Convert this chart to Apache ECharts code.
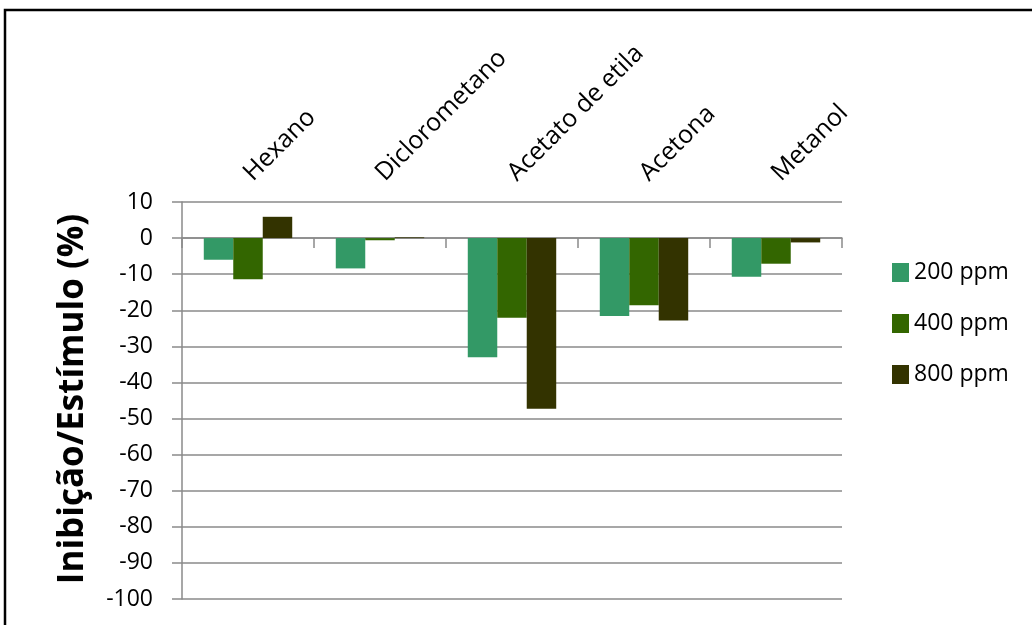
<!DOCTYPE html>
<html>
<head>
<meta charset="utf-8">
<script src="https://cdn.jsdelivr.net/npm/echarts@6/dist/echarts.min.js"></script>
<style>
  html, body { margin: 0; padding: 0; background: #fff; }
  #chart { width: 1032px; height: 625px; }
</style>
</head>
<body>
<div id="chart"></div>
<script>
// Solvents tested
const categories = ['Hexano', 'Diclorometano', 'Acetato de etila', 'Acetona', 'Metanol'];

// Inhibition / stimulation (%) per concentration
const ppm200 = [-6.0, -8.4, -33.0, -21.6, -10.7];
const ppm400 = [-11.4, -0.6, -22.1, -18.6, -7.1];
const ppm800 = [5.9, 0.2, -47.3, -22.8, -1.2];

const seriesNames = ['200 ppm', '400 ppm', '800 ppm'];
const seriesColors = ['#339966', '#336600', '#333300'];

// Value axis settings
const yMin = -100;
const yMax = 10;
const yStep = 10;

const FONT = '"Open Sans", "Noto Sans", sans-serif';
const GRID_COLOR = '#8a8a8a';

const chart = echarts.init(document.getElementById('chart'), null, { renderer: 'canvas' });

const seriesData = [ppm200, ppm400, ppm800];

chart.setOption({
  animation: false,
  backgroundColor: '#ffffff',
  grid: { left: 182, top: 202, width: 660, height: 397 },
  legend: {
    orient: 'vertical',
    left: 887,
    top: 256,
    itemWidth: 17,
    itemHeight: 19,
    itemGap: 28,
    icon: 'rect',
    textStyle: { fontFamily: FONT, fontSize: 23, color: '#000', lineHeight: 23 },
    data: seriesNames
  },
  xAxis: [
    {
      // category names along the top
      type: 'category',
      position: 'top',
      data: categories,
      axisLine: { show: false, onZero: false },
      axisTick: { show: false },
      axisLabel: {
        rotate: -45,
        margin: 25,
        interval: 0,
        fontFamily: FONT,
        fontSize: 25,
        color: '#000'
      }
    },
    {
      // baseline through zero with separator ticks
      type: 'category',
      position: 'bottom',
      data: categories,
      axisLine: { show: true, onZero: true, lineStyle: { color: GRID_COLOR, width: 1.5 } },
      axisTick: { show: true, length: 10, lineStyle: { color: GRID_COLOR, width: 1.5 } },
      axisLabel: { show: false }
    }
  ],
  yAxis: {
    type: 'value',
    min: yMin,
    max: yMax,
    interval: yStep,
    axisLine: { show: true, lineStyle: { color: GRID_COLOR, width: 1.5 } },
    axisTick: { show: true, length: 10, lineStyle: { color: GRID_COLOR, width: 1.5 } },
    splitLine: { show: true, lineStyle: { color: GRID_COLOR, width: 1.5 } },
    axisLabel: {
      margin: 29,
      fontFamily: FONT,
      fontSize: 23,
      color: '#000'
    }
  },
  graphic: [
    {
      type: 'rect',
      shape: { x: 5, y: 10, width: 1100, height: 700 },
      style: { fill: 'none', stroke: '#000', lineWidth: 2.5 },
      silent: true
    },
    {
      type: 'text',
      x: 73,
      y: 399,
      rotation: Math.PI / 2,
      style: {
        text: 'Inibição/Estímulo (%)',
        fontFamily: FONT,
        fontWeight: 'bold',
        fontSize: 35,
        fill: '#000',
        align: 'center',
        verticalAlign: 'middle'
      }
    }
  ],
  series: seriesData.map((values, i) => ({
    name: seriesNames[i],
    type: 'bar',
    xAxisIndex: 0,
    data: values,
    barGap: '0%',
    barCategoryGap: '33%',
    itemStyle: { color: seriesColors[i] }
  }))
});
</script>
</body>
</html>
